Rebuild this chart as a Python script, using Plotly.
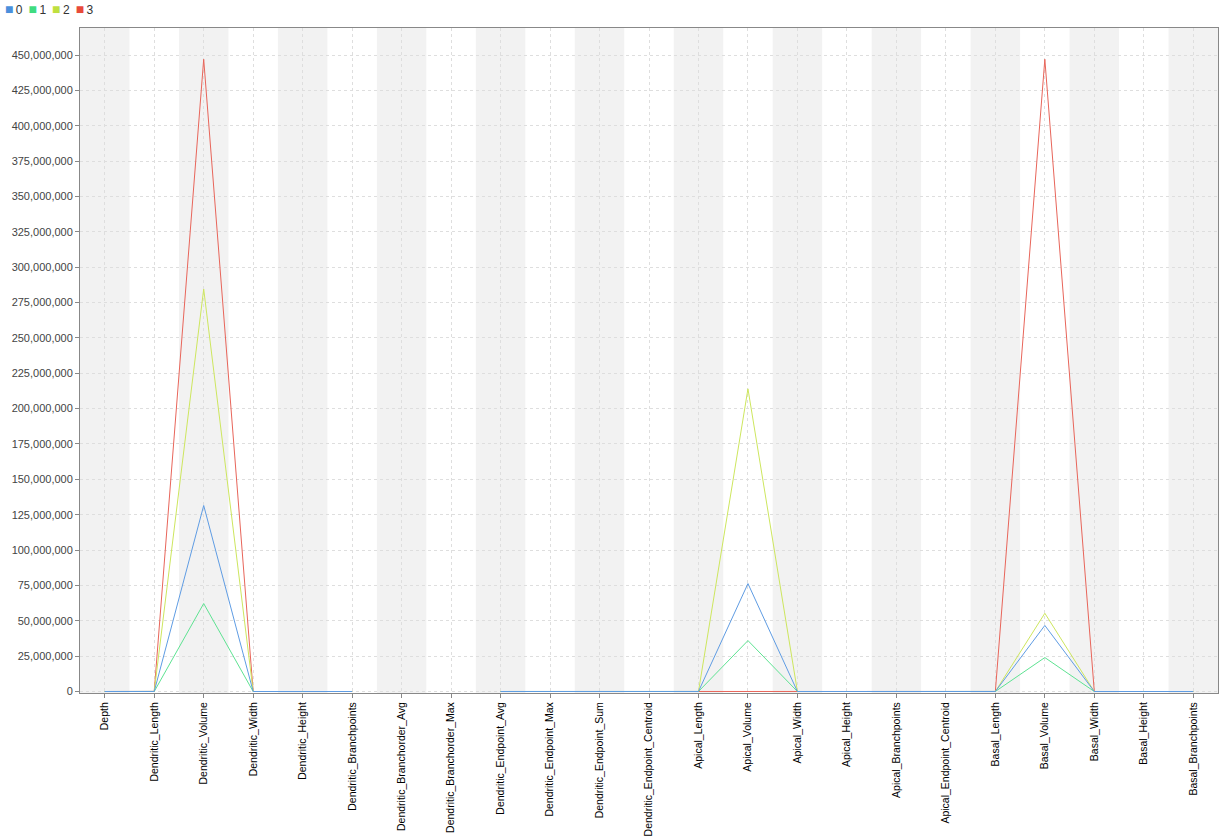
import plotly.graph_objects as go

categories = ["Depth", "Dendritic_Length", "Dendritic_Volume", "Dendritic_Width", "Dendritic_Height",
              "Dendritic_Branchpoints", "Dendritic_Branchorder_Avg", "Dendritic_Branchorder_Max",
              "Dendritic_Endpoint_Avg", "Dendritic_Endpoint_Max", "Dendritic_Endpoint_Sum",
              "Dendritic_Endpoint_Centroid", "Apical_Length", "Apical_Volume", "Apical_Width",
              "Apical_Height", "Apical_Branchpoints", "Apical_Endpoint_Centroid", "Basal_Length",
              "Basal_Volume", "Basal_Width", "Basal_Height", "Basal_Branchpoints"]

series_names = ["0", "1", "2", "3"]
s0 = [600, 30000, 131500000, 400, 500, 150, None, None, 200, 400, 9000, 150, 12000, 76300000, 350, 450, 60, 150, 15000, 46700000, 380, 420, 80]
s1 = [500, 25000, 62200000, 350, 450, 120, None, None, 180, 380, 8000, 140, 10000, 36000000, 300, 400, 50, 140, 13000, 24000000, 340, 380, 70]
s2 = [700, 45000, 284500000, 450, 550, 200, None, None, 220, 420, 11000, 160, 20000, 214000000, 400, 500, 80, 160, 18000, 55300000, 420, 460, 100]
s3 = [800, 60000, 447000000, 500, 600, 250, None, None, 240, 450, 13000, 170, 9000, 300000, 380, 480, 70, 150, 25000, 447000000, 480, 500, 120]
all_series = [s0, s1, s2, s3]
colors = ["#4a8fdc", "#3fdc80", "#bfe03f", "#e84a3a"]
line_colors = ["#5f9ce3", "#5ee392", "#cde65e", "#e8655a"]
y_ticks = list(range(0, 450000001, 25000000))

fig = go.Figure()

# draw series 3 first so series 0 ends up on top
for i in reversed(range(4)):
    fig.add_trace(go.Scatter(x=categories, y=all_series[i], mode="lines", name=series_names[i],
                             line=dict(color=line_colors[i], width=1),
                             showlegend=False, connectgaps=False, hoverinfo="skip"))

shapes = []
for idx in range(0, len(categories), 2):
    shapes.append(dict(type="rect", xref="x", yref="paper", x0=idx - 0.5, x1=idx + 0.5,
                       y0=0, y1=1, fillcolor="#f2f2f2", line=dict(width=0), layer="below"))

legend_text = "\u2002".join(
    f"<span style='color:{colors[i]};font-size:14px'>\u25a0</span>\u2009{series_names[i]}" for i in range(4))

fig.update_layout(
    width=1230, height=840,
    margin=dict(l=80, r=12, t=28, b=146.5, autoexpand=False),
    paper_bgcolor="white", plot_bgcolor="white",
    font=dict(family="Liberation Sans, Arial, sans-serif", size=11, color="#444444"),
    shapes=shapes,
    showlegend=False,
    annotations=[dict(text=legend_text, xref="paper", yref="paper", x=-0.068, y=1.0286,
                      xanchor="left", yanchor="middle", showarrow=False,
                      font=dict(size=12, color="#333333"))],
)

fig.update_xaxes(type="category", categoryorder="array", categoryarray=categories,
                 range=[-0.5, len(categories) - 0.5], tickangle=-90, automargin=False,
                 showgrid=True, gridcolor="#dedede", griddash="3px,3px", gridwidth=1,
                 showline=True, linecolor="#888888", linewidth=1, mirror=True,
                 ticks="outside", ticklen=4, tickcolor="#888888",
                 tickfont=dict(size=10.5, color="#000000"), zeroline=False)
fig.update_yaxes(range=[-1060000, 469100000], tickvals=y_ticks, tickformat=",d", automargin=False,
                 showgrid=True, gridcolor="#dedede", griddash="3px,3px", gridwidth=1,
                 showline=True, linecolor="#888888", linewidth=1, mirror=True,
                 ticks="outside", ticklen=4, tickcolor="#888888",
                 tickfont=dict(size=11, color="#444444"), zeroline=False)

fig.write_html("out.html", config={"displayModeBar": False},
               post_script="document.body.style.margin='0';")
